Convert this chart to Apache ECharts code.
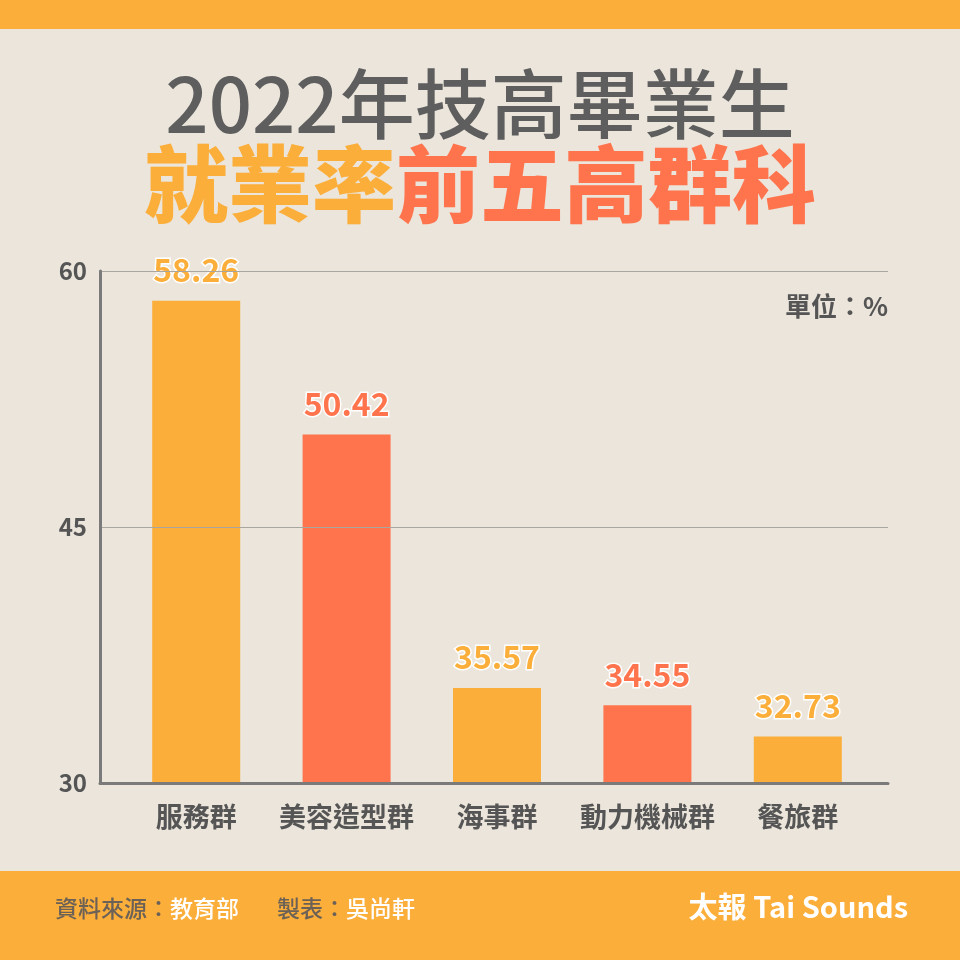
<!DOCTYPE html>
<html>
<head>
<meta charset="utf-8">
<script src="https://cdn.jsdelivr.net/npm/echarts@6/dist/echarts.min.js"></script>
<style>
html,body{margin:0;padding:0;background:#EBE5DB;}
#c{width:960px;height:960px;}
</style>
</head>
<body>
<div id="c"></div>
<script>
const categories = ['服務群', '美容造型群', '海事群', '動力機械群', '餐旅群'];
const values = [58.26, 50.42, 35.57, 34.55, 32.73];
const yTicks = [30, 45, 60];

const ORANGE = '#FBAE3A';
const CORAL = '#FF744D';
const palette = [ORANGE, CORAL];
const FONT = '"Noto Sans CJK TC", "Noto Sans", sans-serif';

const chart = echarts.init(document.getElementById('c'), null, {renderer: 'canvas'});

const option = {
  backgroundColor: '#EBE5DB',
  animation: false,
  textStyle: {fontFamily: FONT},
  grid: [
    {left: 121, right: 87, top: 271, bottom: 177},
    {left: 100, right: 72, top: 271, bottom: 177}
  ],
  xAxis: [
    {
      type: 'category', gridIndex: 0, data: categories,
      axisLine: {show: false}, axisTick: {show: false},
      axisLabel: {interval: 0, color: '#555', fontSize: 27, fontWeight: 'bold', margin: 20, fontFamily: FONT}
    },
    {
      type: 'value', gridIndex: 1, min: 0, max: 1, z: 5,
      axisLine: {show: true, onZero: false, lineStyle: {color: '#7a7a7a', width: 3}},
      axisTick: {show: false}, axisLabel: {show: false}, splitLine: {show: false}
    }
  ],
  yAxis: [
    {
      type: 'value', gridIndex: 0, min: yTicks[0], max: yTicks[yTicks.length - 1], interval: 15,
      show: false
    },
    {
      type: 'value', gridIndex: 1, min: yTicks[0], max: yTicks[yTicks.length - 1], interval: 15, z: 5,
      axisLine: {show: true, lineStyle: {color: '#7a7a7a', width: 3}},
      axisTick: {show: false},
      axisLabel: {color: '#555', fontSize: 24, fontWeight: 'bold', margin: 13, fontFamily: FONT},
      splitLine: {show: true, lineStyle: {color: '#a9a59f', width: 1}}
    }
  ],
  series: [{
    type: 'bar',
    xAxisIndex: 0, yAxisIndex: 0,
    data: values.map((v, i) => ({value: v, itemStyle: {color: palette[i % 2]}, label: {color: palette[i % 2]}})),
    barWidth: 88,
    z: 3,
    label: {
      show: true, position: 'top', distance: 15,
      fontSize: 32, fontWeight: 'bold', fontFamily: FONT,
      textBorderColor: '#ffffff', textBorderWidth: 3
    }
  }],
  graphic: [
    {type: 'rect', shape: {x: 0, y: 0, width: 960, height: 29}, style: {fill: ORANGE}, z: 10},
    {type: 'rect', shape: {x: 0, y: 871, width: 960, height: 89}, style: {fill: ORANGE}, z: 10},
    {
      type: 'text', left: 'center', top: 66, z: 10,
      style: {text: '2022年技高畢業生', fill: '#5e5e5e', font: '500 76px ' + FONT}
    },
    {
      type: 'text', left: 'center', top: 142, z: 10,
      style: {
        text: '{a|就業率}{b|前五高群科}',
        rich: {
          a: {fill: ORANGE, font: '900 84px ' + FONT},
          b: {fill: CORAL, font: '900 84px ' + FONT}
        }
      }
    },
    {
      type: 'text', right: 72, top: 293, z: 10,
      style: {text: '單位：%', fill: '#555', font: 'bold 26px ' + FONT}
    },
    {
      type: 'text', left: 55, top: 897, z: 11,
      style: {
        text: '{g|資料來源：}{w|教育部}{s| }{g|製表：}{w|吳尚軒}',
        rich: {
          g: {fill: '#6b6157', font: '500 23px ' + FONT},
          w: {fill: '#ffffff', font: '500 23px ' + FONT},
          s: {width: 38}
        }
      }
    },
    {
      type: 'text', right: 52, top: 892, z: 11,
      style: {text: '太報 Tai Sounds', fill: '#ffffff', font: 'bold 29px ' + FONT}
    }
  ]
};
chart.setOption(option);
</script>
</body>
</html>
